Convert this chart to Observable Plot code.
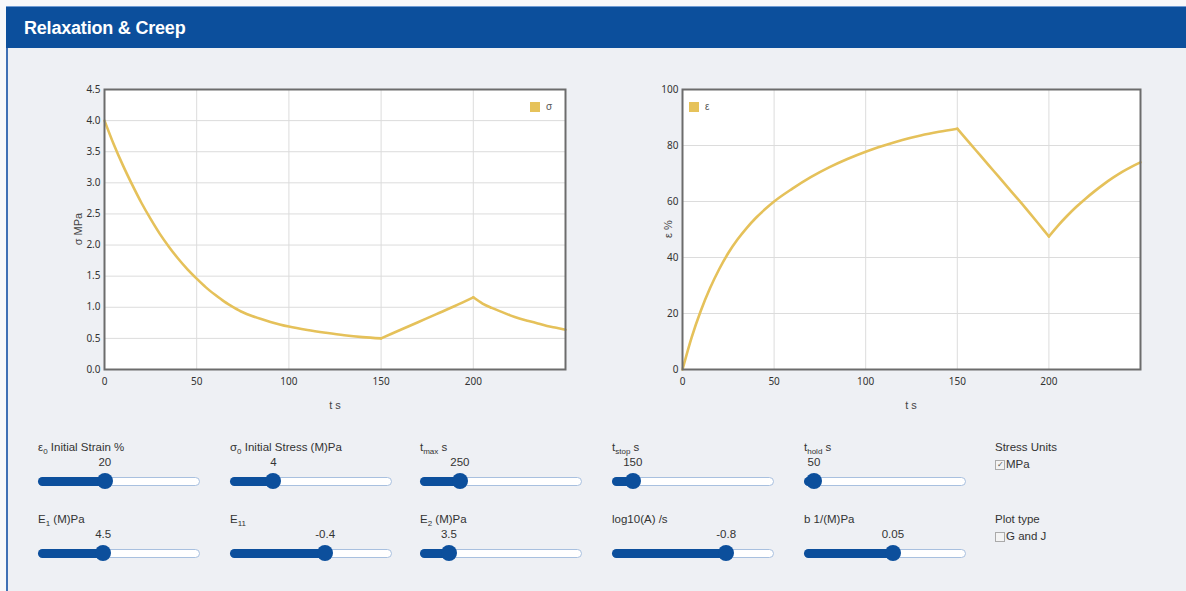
<!DOCTYPE html>
<html><head><meta charset="utf-8">
<script src="https://cdn.jsdelivr.net/npm/d3@7"></script>
<script src="https://cdn.jsdelivr.net/npm/@observablehq/plot@0.6"></script>
<style>
html,body{margin:0;padding:0}
body{width:1186px;height:591px;background:#f7f8fa;font-family:"Liberation Sans",Arial,sans-serif;position:relative;overflow:hidden;color:#333}
#header{position:absolute;left:6px;top:6px;width:1180px;height:42px;background:#0c4f9c;border-top:1px solid #6f9bd3;box-sizing:border-box}
#header span{position:absolute;left:18px;top:11px;color:#fff;font-weight:bold;font-size:18px;letter-spacing:-0.2px}
#panel{position:absolute;left:6px;top:48px;width:1180px;height:543px;background:#eef0f4;border-left:2px solid #3f70b5;box-sizing:border-box}
.abs{position:absolute;white-space:nowrap}
.axt{font-size:11px;color:#444}
.lab{font-size:11.5px;color:#333;line-height:14px}
.lab sub{font-size:8px;vertical-align:-3px;line-height:0}
.val{font-size:11.5px;color:#333;transform:translateX(-50%);line-height:14px}
.track{height:7px;background:#fff;border:1px solid #a8c0df;border-radius:5px;box-sizing:content-box}
.fill{height:9px;background:#0c4f9c;border-radius:5px}
.thumb{width:16px;height:16px;border-radius:50%;background:#0c4f9c}
.box{width:8px;height:8px;border:1px solid #aaa;background:#f4f4f4;font-size:8px;line-height:8px;text-align:center;color:#555}
.leg{width:10px;height:10px;background:#e6c25a}
.legt{font-size:10px;color:#555;line-height:10px}
</style></head>
<body>
<div id="header"><span>Relaxation &amp; Creep</span></div>
<div id="panel"></div>
<div id="charts"></div>
<div id="controls"></div>
<script>
// ---- data ----
const tSigma = [0,5,10,15,20,25,30,35,40,45,50,55,60,65,70,75,80,85,90,95,100,110,120,130,140,150,160,170,180,190,200,205,210,215,220,225,230,235,240,245,250];
const sigma  = [4.00,3.62,3.28,2.97,2.68,2.42,2.18,1.97,1.78,1.61,1.46,1.32,1.20,1.09,1.00,0.92,0.86,0.81,0.765,0.725,0.69,0.635,0.59,0.55,0.52,0.50,0.63,0.76,0.89,1.02,1.16,1.06,0.99,0.93,0.87,0.82,0.78,0.74,0.70,0.67,0.64];
const tEps   = [0,5,10,15,20,25,30,35,40,45,50,60,70,80,90,100,110,120,130,140,150,155,160,165,170,175,180,185,190,195,200,205,210,215,220,225,230,235,240,245,250];
const eps    = [0,11.5,21,29,35.8,41.6,46.4,50.5,54.1,57.2,60,64.6,68.7,72.2,75.2,77.8,80,82,83.6,84.9,86,82.2,78.4,74.6,70.8,67,63.2,59.4,55.5,51.5,47.5,51.4,54.9,58.1,61,63.7,66.2,68.5,70.6,72.4,74];
const xTicks = [0,50,100,150,200];
const sigmaTicks = [0,0.5,1,1.5,2,2.5,3,3.5,4,4.5];
const epsTicks = [0,20,40,60,80,100];
// load changes at 150 s and 200 s (corners stay sharp)
const loadChanges = [150,200];

const sliderLabels = ["ε<sub>0</sub> Initial Strain %","σ<sub>0</sub> Initial Stress (M)Pa","t<sub>max</sub> s","t<sub>stop</sub> s","t<sub>hold</sub> s",
                      "E<sub>1</sub> (M)Pa","E<sub>11</sub>","E<sub>2</sub> (M)Pa","log10(A) /s","b 1/(M)Pa"];
const sliderValues = [20,4,250,150,50,4.5,-0.4,3.5,-0.8,0.05];
const sliderText   = ["20","4","250","150","50","4.5","-0.4","3.5","-0.8","0.05"];
const sliderMin    = [0,0,50,80,50,1,-1,2.5,-3,0];
const sliderMax    = [50,17,1000,1000,500,10,0,10,0,0.09];
const optionTitles = ["Stress Units","Plot type"];
const optionLabels = ["MPa","G and J"];
const optionChecked = [true,false];

// ---- charts ----
function chart(t, v, yDomain, yTicks, yFmt, w, ml, mr) {
  const rows = [];
  t.forEach((x,i)=>{
    const seg = loadChanges.filter(b => x > b).length;
    rows.push({t:x, v:v[i], seg});
    if (loadChanges.includes(x)) rows.push({t:x, v:v[i], seg:seg+1});
  });
  return Plot.plot({
    width:w, height:350, marginLeft:ml, marginRight:mr, marginTop:14, marginBottom:56,
    style:{background:"transparent", fontFamily:"Liberation Sans, Arial, sans-serif", fontSize:"10px", color:"#777"},
    x:{domain:[0,250], ticks:xTicks, label:null, tickSize:0, tickPadding:8, tickFormat:d=>String(d)},
    y:{domain:yDomain, ticks:yTicks, label:null, tickSize:0, tickPadding:4, tickFormat:yFmt},
    marks:[
      Plot.frame({fill:"#fff", stroke:null}),
      Plot.gridX(xTicks,{stroke:"#dcdcdc", strokeOpacity:1}),
      Plot.gridY(yTicks,{stroke:"#dcdcdc", strokeOpacity:1}),
      Plot.line(rows,{x:"t", y:"v", z:"seg", stroke:"#e5c15a", strokeWidth:2.6, curve:"monotone-x"}),
      Plot.frame({stroke:"#6c6c6c", strokeWidth:2})
    ]
  });
}
const charts = document.getElementById("charts");
const c1 = chart(tSigma, sigma, [0,4.5], sigmaTicks, d3.format(".1f"), 560, 64, 35);
c1.style.cssText = "position:absolute;left:40px;top:75px";
charts.appendChild(c1);
const c2 = chart(tEps, eps, [0,100], epsTicks, d=>String(d), 545, 62, 25);
c2.style.cssText = "position:absolute;left:620px;top:75px";
charts.appendChild(c2);

function addHTML(parent, html){ parent.insertAdjacentHTML("beforeend", html); }
// axis titles and legends
addHTML(charts, `<div class="abs axt" style="left:78px;top:229px;transform:translate(-50%,-50%) rotate(-90deg)">σ MPa</div>`);
addHTML(charts, `<div class="abs axt" style="left:335px;top:399px;transform:translateX(-50%)">t s</div>`);
addHTML(charts, `<div class="abs axt" style="left:668px;top:229px;transform:translate(-50%,-50%) rotate(-90deg)">ε %</div>`);
addHTML(charts, `<div class="abs axt" style="left:911px;top:399px;transform:translateX(-50%)">t s</div>`);
addHTML(charts, `<div class="abs leg" style="left:530px;top:102px"></div><div class="abs legt" style="left:546px;top:102px">σ</div>`);
addHTML(charts, `<div class="abs leg" style="left:689px;top:102px"></div><div class="abs legt" style="left:705px;top:102px">ε</div>`);

// ---- controls ----
const ctl = document.getElementById("controls");
const colX = [38,230,420,612,804];
const rowY = [481,553];
const trackW = 162;
sliderLabels.forEach((lab,i)=>{
  const col = i%5, row = Math.floor(i/5);
  const x0 = colX[col], y = rowY[row];
  const frac = (sliderValues[i]-sliderMin[i])/(sliderMax[i]-sliderMin[i]);
  const cx = x0 + 10 + frac*(trackW-20);
  addHTML(ctl, `<div class="abs lab" style="left:${x0}px;top:${y-41}px">${lab}</div>`);
  addHTML(ctl, `<div class="abs val" style="left:${cx}px;top:${y-26}px">${sliderText[i]}</div>`);
  addHTML(ctl, `<div class="abs track" style="left:${x0}px;top:${y-4}px;width:${trackW-2}px"></div>`);
  addHTML(ctl, `<div class="abs fill" style="left:${x0}px;top:${y-4}px;width:${cx-x0}px"></div>`);
  addHTML(ctl, `<div class="abs thumb" style="left:${cx-8}px;top:${y-8}px"></div>`);
});
optionTitles.forEach((t,i)=>{
  const y = rowY[i];
  addHTML(ctl, `<div class="abs lab" style="left:995px;top:${y-41}px">${t}</div>`);
  addHTML(ctl, `<div class="abs box" style="left:995px;top:${y-21}px">${optionChecked[i]?"✓":""}</div>`);
  addHTML(ctl, `<div class="abs lab" style="left:1006px;top:${y-24}px">${optionLabels[i]}</div>`);
});
</script>
</body></html>
